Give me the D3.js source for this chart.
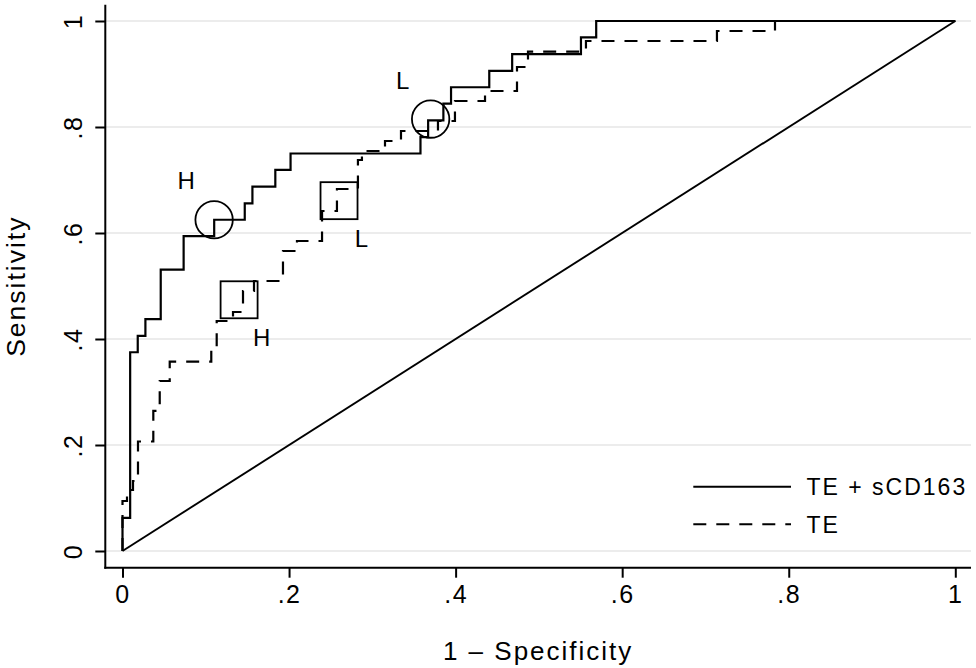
<!DOCTYPE html>
<html>
<head>
<meta charset="utf-8">
<script src="https://cdn.jsdelivr.net/npm/d3@7"></script>
<style>
  body { margin: 0; background: #fff; }
  svg { display: block; font-family: "Liberation Sans", Arial, Helvetica, sans-serif; }
</style>
</head>
<body>
<svg id="chart" width="976" height="668"></svg>
<script>
"use strict"

/****** DATA ******/
// ROC vertices (1 - specificity, sensitivity)
const fprCombined = [0, 0, 0.0092, 0.0092, 0.0183, 0.0183, 0.0275, 0.0275, 0.0459, 0.0459, 0.0734, 0.0734,
  0.1101, 0.1101, 0.1468, 0.1468, 0.156, 0.156, 0.1835, 0.1835, 0.2018, 0.2018, 0.3578, 0.3578, 0.367, 0.367,
  0.3853, 0.3853, 0.3945, 0.3945, 0.4404, 0.4404, 0.4679, 0.4679, 0.5505, 0.5505, 0.5688, 0.5688, 1]
const tprCombined = [0, 0.0625, 0.0625, 0.375, 0.375, 0.406, 0.406, 0.4375, 0.4375, 0.531, 0.531, 0.594,
  0.594, 0.625, 0.625, 0.656, 0.656, 0.6875, 0.6875, 0.719, 0.719, 0.75, 0.75, 0.781, 0.781, 0.8125,
  0.8125, 0.844, 0.844, 0.875, 0.875, 0.906, 0.906, 0.9375, 0.9375, 0.969, 0.969, 1, 1]

const fprTE = [0, 0, 0.0054, 0.0054, 0.0126, 0.0126, 0.0186, 0.0186, 0.037, 0.037, 0.0447, 0.0447, 0.0567,
  0.0567, 0.1066, 0.1066, 0.1131, 0.1131, 0.1327, 0.1327, 0.1447, 0.1447, 0.1579, 0.1579, 0.1927, 0.1927,
  0.2095, 0.2095, 0.2396, 0.2396, 0.2575, 0.2575, 0.2827, 0.2827, 0.2875, 0.2875, 0.3152, 0.3152, 0.3344,
  0.3344, 0.3788, 0.3788, 0.3992, 0.3992, 0.4353, 0.4353, 0.4737, 0.4737, 0.4869, 0.4869, 0.5565, 0.5565,
  0.7138, 0.7138, 0.7835, 0.7835, 1]
const tprTE = [0, 0.0943, 0.0943, 0.1151, 0.1151, 0.1321, 0.1321, 0.2066, 0.2066, 0.2642, 0.2642, 0.3208,
  0.3208, 0.3572, 0.3572, 0.3779, 0.3779, 0.434, 0.434, 0.4509, 0.4509, 0.4906, 0.4906, 0.5094, 0.5094,
  0.566, 0.566, 0.5849, 0.5849, 0.6415, 0.6415, 0.683, 0.683, 0.7377, 0.7377, 0.7547, 0.7547, 0.7736,
  0.7736, 0.7925, 0.7925, 0.8113, 0.8113, 0.8491, 0.8491, 0.8679, 0.8679, 0.9132, 0.9132, 0.9421, 0.9421,
  0.9623, 0.9623, 0.9811, 0.9811, 1, 1]

// cut points (high / low)
const cutLabels = ['H', 'L']
const cutFprCombined = [0.110, 0.370]
const cutTprCombined = [0.625, 0.815]
const cutFprTE = [0.140, 0.260]
const cutTprTE = [0.474, 0.661]

const tickValues = [0, 0.2, 0.4, 0.6, 0.8, 1]
const tickLabels = ['0', '.2', '.4', '.6', '.8', '1']
const seriesNames = ['TE + sCD163', 'TE']
const xTitle = '1 – Specificity'
const yTitle = 'Sensitivity'

/****** LAYOUT ******/
const plotLeft = 105.3, plotRight = 971, plotTop = 4.7, plotBottom = 567.7
const dash = '13,10'

const svg = d3.select('#chart')
svg.append('rect').attr('width', 976).attr('height', 668).attr('fill', '#fff')

const x = d3.scaleLinear().domain([0, 1]).range([122.5, 955.3])
const y = d3.scaleLinear().domain([0, 1]).range([551, 21])

// gridlines
svg.append('g').selectAll('line')
  .data(tickValues)
  .enter().append('line')
    .attr('x1', plotLeft).attr('x2', plotRight)
    .attr('y1', d => y(d)).attr('y2', d => y(d))
    .attr('stroke', '#e6e6e6').attr('stroke-width', 1.3)

// axes
const yAxis = svg.append('g')
  .attr('transform', `translate(${plotLeft},0)`)
  .call(d3.axisLeft(y).tickValues(tickValues).tickFormat((d, i) => tickLabels[i]).tickSize(10))
  .attr('font-size', 25).attr('font-family', null).attr('letter-spacing', 1.5)
yAxis.select('.domain').remove()
yAxis.selectAll('.tick line').attr('stroke-width', 2)
yAxis.selectAll('.tick text')
  .attr('transform', 'rotate(-90)')
  .attr('x', 0).attr('y', -23.6).attr('dy', 0)
  .attr('text-anchor', 'middle').attr('fill', '#000')

const xAxis = svg.append('g')
  .attr('transform', `translate(0,${plotBottom})`)
  .call(d3.axisBottom(x).tickValues(tickValues).tickFormat((d, i) => tickLabels[i]).tickSize(10))
  .attr('font-size', 25).attr('font-family', null).attr('letter-spacing', 1.5)
xAxis.select('.domain').remove()
xAxis.selectAll('.tick line').attr('stroke-width', 2)
xAxis.selectAll('.tick text').attr('y', 35.3).attr('dy', 0).attr('fill', '#000')

// frame lines (left + bottom only)
svg.append('line').attr('x1', plotLeft).attr('x2', plotLeft).attr('y1', plotTop).attr('y2', plotBottom + 1)
  .attr('stroke', '#000').attr('stroke-width', 2)
svg.append('line').attr('x1', plotLeft - 1).attr('x2', plotRight).attr('y1', plotBottom).attr('y2', plotBottom)
  .attr('stroke', '#000').attr('stroke-width', 2)

// reference diagonal
const line = d3.line().x(d => x(d[0])).y(d => y(d[1]))
svg.append('path')
  .attr('d', line([[0, 0], [1, 1]]))
  .attr('fill', 'none').attr('stroke', '#000').attr('stroke-width', 1.9)

// ROC curves
const curves = [
  {pts: d3.zip(fprCombined, tprCombined), dash: null},
  {pts: d3.zip(fprTE, tprTE), dash: dash},
]
svg.append('g').selectAll('path')
  .data(curves)
  .enter().append('path')
    .attr('d', c => line(c.pts))
    .attr('fill', 'none')
    .attr('stroke', '#000')
    .attr('stroke-width', 2.2)
    .attr('stroke-dasharray', c => c.dash)

// cut point markers
const markerG = svg.append('g').attr('font-size', 24)
d3.zip(cutFprCombined, cutTprCombined, cutLabels).forEach(([f, t, lab]) => {
  markerG.append('circle')
    .attr('cx', x(f)).attr('cy', y(t)).attr('r', 18.7)
    .attr('fill', 'none').attr('stroke', '#000').attr('stroke-width', 1.8)
  markerG.append('text')
    .attr('x', x(f) - 28).attr('y', y(t) - 30.5)
    .attr('text-anchor', 'middle')
    .text(lab)
})
d3.zip(cutFprTE, cutTprTE, cutLabels).forEach(([f, t, lab]) => {
  markerG.append('rect')
    .attr('x', x(f) - 18.5).attr('y', y(t) - 18.5).attr('width', 37).attr('height', 37)
    .attr('fill', 'none').attr('stroke', '#000').attr('stroke-width', 1.8)
  markerG.append('text')
    .attr('x', x(f) + 22.5).attr('y', y(t) + 46.5)
    .attr('text-anchor', 'middle')
    .text(lab)
})

// legend
const legend = svg.append('g').attr('font-size', 23).attr('letter-spacing', 2)
seriesNames.forEach((name, i) => {
  const ly = 486.7 + i * 37.6
  legend.append('line')
    .attr('x1', 693.3).attr('x2', 791).attr('y1', ly).attr('y2', ly)
    .attr('stroke', '#000').attr('stroke-width', 2)
    .attr('stroke-dasharray', curves[i].dash)
  legend.append('text')
    .attr('x', 806.5).attr('y', ly + 8.5)
    .text(name)
})

// axis titles
svg.append('text')
  .attr('x', (plotLeft + plotRight) / 2).attr('y', 660)
  .attr('text-anchor', 'middle').attr('font-size', 26).attr('letter-spacing', 2)
  .text(xTitle)
svg.append('text')
  .attr('transform', `translate(25,${(plotTop + plotBottom) / 2}) rotate(-90)`)
  .attr('text-anchor', 'middle').attr('font-size', 26.5).attr('letter-spacing', 2)
  .text(yTitle)
</script>
</body>
</html>
